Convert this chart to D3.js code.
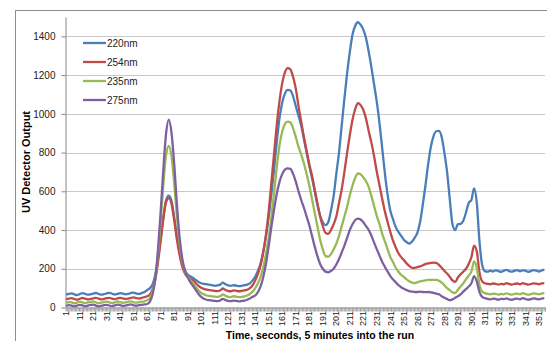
<!DOCTYPE html>
<html>
<head>
<meta charset="utf-8">
<title>UV detector output</title>
<style>
body { margin: 0; background: #fff; }
svg { display: block; font-family: "Liberation Sans", Arial, sans-serif; }
.grid line { stroke: #c8c8c8; stroke-width: 1; }
.axis path, .axis line { stroke: #868686; }
.axis text { fill: #222; }
.series { fill: none; stroke-width: 2.3; stroke-linejoin: round; }
</style>
</head>
<body>
<script src="https://cdn.jsdelivr.net/npm/d3@7/dist/d3.min.js"></script>
<script>

// time in seconds, one reading every 2 s
var seconds = d3.range(1, 356, 2)

var tickLabels = [1, 11, 21, 31, 41, 51, 61, 71, 81, 91, 101, 111, 121, 131, 141, 151, 161, 171,
    181, 191, 201, 211, 221, 231, 241, 251, 261, 271, 281, 291, 301, 311, 321, 331, 341, 351]

var yTicks = [0, 200, 400, 600, 800, 1000, 1200, 1400]

var nm220 = [
    // s 1-59
    66,70,73,68,64,69,74,71,66,68, 72,75,70,66,69,73,76,71,67,70, 74,72,68,70,75,77,72,70,75,80,
    // s 61-105
    90,100,120,170,255,360,470,555,578,550, 465,370,285,225,190,170,160,152,142,132, 125,122,120,
    // s 107-139
    118,115,112,114,118,128,120,114,112,115, 113,110,112,115,118,125,140,
    // s 141-313
    160,190,230,290,370,470,590,720,860,980,
    1060,1105,1124,1120,1090,1040,990,940,870,800,
    730,670,600,530,475,440,425,440,500,575,
    690,800,940,1080,1210,1320,1410,1455,1473,1460,
    1435,1390,1320,1240,1150,1060,950,820,690,580,
    500,455,415,390,370,350,338,330,340,360,
    385,440,530,630,740,830,885,910,912,880,
    800,700,560,430,400,430,432,448,490,540,
    555,615,540,340,220,188,185,
    // s 315-355
    190,186,192,188,184,190,194,188,185,190, 193,187,192,190,184,188,193,190,186,191, 195
]

var nm254 = [
    42,46,48,44,40,45,49,46,42,44, 47,50,46,42,45,48,50,46,43,47, 50,47,44,46,50,52,48,46,50,54,
    58,68,95,145,235,345,460,545,565,535, 450,350,270,210,175,158,148,140,125,112, 102,96,92,
    90,88,86,85,88,98,90,85,84,88, 86,84,86,88,92,100,115,
    140,175,220,290,380,500,650,800,950,1070,
    1160,1215,1236,1230,1190,1130,1040,960,880,810,
    740,680,610,540,470,420,385,380,400,430,
    470,540,610,700,800,890,970,1025,1055,1045,
    1020,975,910,850,780,700,630,560,495,440,
    390,345,310,280,260,245,228,215,205,205,
    208,212,218,224,228,230,232,230,220,205,
    190,175,158,140,132,155,172,185,200,225,
    260,320,290,180,135,125,122,
    120,124,122,118,122,120,126,121,118,122, 124,120,126,122,118,121,125,123,120,124, 126
]

var nm235 = [
    24,28,26,22,25,30,27,23,26,29, 31,26,22,25,28,30,26,23,27,31, 28,24,26,30,32,27,25,28,30,32,
    38,50,85,150,280,450,640,790,834,780, 640,470,330,240,185,160,140,125,105,88, 75,68,62,
    60,58,56,55,58,68,60,55,54,58, 56,54,55,58,62,70,82,
    100,125,160,210,280,360,470,600,730,840,
    910,948,960,955,925,880,830,790,745,690,
    630,560,490,420,350,300,265,262,275,300,
    330,370,420,470,520,580,630,670,692,688,
    672,652,622,575,522,472,430,380,340,300,
    260,235,205,185,168,158,145,135,128,126,
    130,135,138,140,143,142,143,143,138,128,
    115,100,90,78,75,92,108,125,145,165,
    185,238,205,115,82,74,70,
    68,72,70,66,70,68,73,69,66,70, 72,68,74,70,66,69,73,71,68,72, 74
]

var nm275 = [
    8,12,10,6,9,14,11,7,10,13, 15,10,6,9,12,14,10,7,11,15, 12,8,10,14,16,11,9,12,14,16,
    18,30,68,150,300,500,720,900,970,900, 740,530,360,250,190,155,130,110,90,70, 55,45,40,
    38,36,34,33,36,45,38,34,33,36, 34,32,34,36,40,46,55,
    62,80,110,160,230,320,420,510,590,650,
    690,712,718,716,690,650,600,555,515,470,
    425,370,315,265,225,200,185,182,188,200,
    222,250,285,320,360,400,430,452,459,455,
    440,420,400,370,335,300,268,235,210,185,
    162,145,130,115,105,97,90,85,82,80,
    80,82,80,79,80,78,76,72,68,58,
    50,44,38,42,50,58,68,82,95,108,
    125,162,135,80,55,48,45,
    42,46,44,40,45,43,47,42,40,44, 46,42,48,44,40,43,47,45,42,46, 48
]

var series = [
    {name: '220nm', color: '#4a7ebb', values: nm220},
    {name: '254nm', color: '#be4b48', values: nm254},
    {name: '235nm', color: '#98b954', values: nm235},
    {name: '275nm', color: '#7d60a0', values: nm275}
]

var width = 547,
    height = 341

var x = d3.scaleLinear().domain([0.5, 355.5]).range([65.5, 545])
var y = d3.scaleLinear().domain([0, 1500]).range([307.5, 17])

var svg = d3.select('body').append('svg')
    .attr('width', width)
    .attr('height', height)

// outer chart border
svg.append('rect')
    .attr('x', 15.5).attr('y', 10.5)
    .attr('width', 560).attr('height', 360)
    .attr('fill', 'none')
    .attr('stroke', '#8e8e8e')

// horizontal gridlines
svg.append('g').attr('class', 'grid')
    .selectAll('line')
    .data(yTicks.filter(function(d){ return d > 0 }))
    .enter().append('line')
    .attr('x1', x.range()[0]).attr('x2', x.range()[1])
    .attr('y1', function(d){ return Math.round(y(d)) + 0.5 })
    .attr('y2', function(d){ return Math.round(y(d)) + 0.5 })

// y axis
var yAxis = svg.append('g')
    .attr('class', 'axis')
    .attr('transform', 'translate(65.5,0)')
    .call(d3.axisLeft(y).tickValues(yTicks).tickFormat(d3.format('d'))
        .tickSize(4).tickPadding(6).tickSizeOuter(0))
yAxis.selectAll('text').style('font-size', '10px')

// x axis, a small tick on every second
svg.append('g')
    .attr('class', 'axis')
    .attr('transform', 'translate(0,307.5)')
    .call(d3.axisBottom(x).tickValues(d3.range(0.5, 356, 1)).tickSize(4).tickSizeOuter(0).tickFormat(''))
    .selectAll('.tick line').style('stroke', '#a0a0a0')

svg.append('g')
    .selectAll('text')
    .data(tickLabels)
    .enter().append('text')
    .attr('transform', function(d){ return 'translate(' + x(d) + ',311) rotate(-90)' })
    .attr('dy', '0.35em')
    .attr('text-anchor', 'end')
    .style('font-size', '9px')
    .style('fill', '#222')
    .text(function(d){ return d })

// data lines
var line = d3.line()
    .x(function(d, i){ return x(seconds[i]) })
    .y(function(d){ return y(d) })
    .curve(d3.curveMonotoneX)

svg.append('g')
    .selectAll('path')
    .data(series)
    .enter().append('path')
    .attr('class', 'series')
    .attr('stroke', function(d){ return d.color })
    .attr('d', function(d){ return line(d.values) })

// legend
var legend = svg.append('g')
    .selectAll('g')
    .data(series)
    .enter().append('g')
    .attr('transform', function(d, i){ return 'translate(83,' + (43 + i * 19) + ')' })

legend.append('line')
    .attr('x1', 0).attr('x2', 23)
    .attr('stroke', function(d){ return d.color })
    .attr('stroke-width', 2.3)

legend.append('text')
    .attr('x', 24)
    .attr('dy', '0.35em')
    .style('font-size', '10px')
    .style('fill', '#222')
    .text(function(d){ return d.name })

// axis titles
svg.append('text')
    .attr('x', 320).attr('y', 339)
    .attr('text-anchor', 'middle')
    .style('font-size', '10.5px')
    .style('font-weight', 'bold')
    .text('Time, seconds, 5 minutes into the run')

svg.append('text')
    .attr('transform', 'translate(30,162) rotate(-90)')
    .attr('text-anchor', 'middle')
    .style('font-size', '11px')
    .style('font-weight', 'bold')
    .text('UV Detector Output')

</script>
</body>
</html>
